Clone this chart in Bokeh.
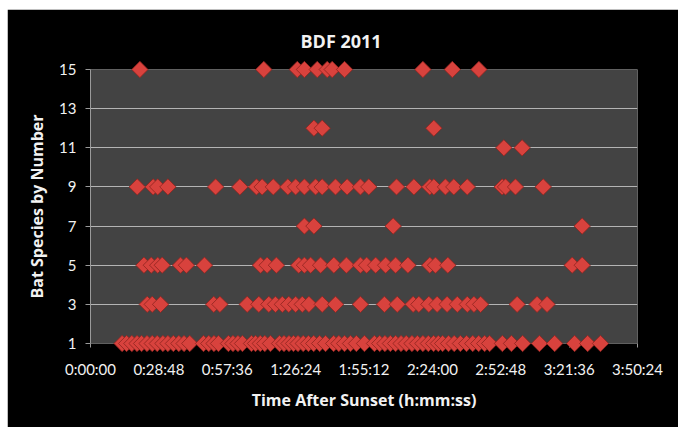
import numpy as np
from bokeh.plotting import figure
from bokeh.models import FixedTicker, Range1d, ColumnDataSource
from bokeh.embed import file_html
from bokeh.resources import INLINE

# ---- data (time after sunset in minutes, by bat species number) ----
species_15 = [20.8, 73.0, 87.1, 90.1, 95.5, 99.7, 101.8, 107.0, 140.0, 152.4, 163.6]
species_12 = [94.1, 97.6, 144.6]
species_11 = [174.1, 181.8]
species_9 = [19.7, 26.4, 28.3, 32.6, 52.7, 62.9, 69.9, 72.3, 77.0, 83.1, 86.4, 90.1,
             94.8, 97.6, 103.2, 108.1, 113.7, 117.2, 128.9, 136.2, 142.9, 144.6, 149.5,
             153.0, 158.7, 173.4, 174.8, 179.0, 190.7]
species_7 = [90.1, 94.1, 127.5, 207.1]
species_5 = [22.5, 25.6, 28.3, 30.2, 37.9, 40.4, 48.0, 71.6, 74.4, 78.3, 87.7, 90.1,
             92.7, 96.9, 102.5, 107.8, 113.7, 116.3, 120.1, 124.3, 128.5, 133.7, 142.9,
             145.3, 150.5, 202.9, 207.1]
species_3 = [23.9, 26.0, 29.5, 51.9, 54.5, 66.0, 70.9, 75.1, 77.9, 80.8, 83.5, 86.4,
             89.2, 92.0, 97.6, 103.2, 113.7, 123.8, 129.2, 135.9, 138.3, 142.5, 146.0,
             150.2, 154.5, 158.7, 161.5, 164.3, 179.7, 188.1, 192.3]
species_1 = [13.3, 15.2, 17.4, 19.6, 21.5, 23.8, 26.0, 28.1, 30.5, 32.6, 34.9, 37.2,
             39.4, 41.8, 47.6, 49.8, 52.0, 53.9, 58.1, 60.0, 62.1, 64.0, 67.8, 69.5,
             71.5, 73.4, 75.8, 79.6, 81.5, 83.6, 85.5, 87.4, 89.6, 91.8, 94.0, 96.5,
             99.0, 102.4, 104.6, 107.0, 109.5, 112.0, 115.4, 119.6, 121.8, 124.0, 126.3,
             128.5, 130.8, 133.0, 135.4, 137.7, 140.0, 142.3, 144.5, 146.5, 148.3, 150.8,
             153.2, 155.8, 158.4, 161.0, 163.5, 166.0, 168.1, 173.5, 177.3, 182.0, 189.1,
             195.5, 203.9, 209.4, 214.8]

rows = {15: species_15, 12: species_12, 11: species_11, 9: species_9,
        7: species_7, 5: species_5, 3: species_3, 1: species_1}

x_ticks_sec = [0, 1728, 3456, 5184, 6912, 8640, 10368, 12096, 13824]
x_tick_labels = ["0:00:00", "0:28:48", "0:57:36", "1:26:24", "1:55:12",
                 "2:24:00", "2:52:48", "3:21:36", "3:50:24"]
y_ticks = [1, 3, 5, 7, 9, 11, 13, 15]
y_grid = [3, 5, 7, 9, 11, 13]

title_text = "BDF 2011"
x_title = "Time After Sunset (h:mm:ss)"
y_title = "Bat Species by Number"

xs, ys = [], []
for sp, times in rows.items():
    for t in times:
        xs.append(t * 60.0)
        ys.append(sp)
src = ColumnDataSource(dict(x=xs, y=ys))

FONT = "Lato"
TFONT = "Open Sans"
TXT = "#f2f2f2"

p = figure(width=671, height=418, output_backend="svg", toolbar_location=None,
           x_range=Range1d(0, 13824), y_range=Range1d(1, 15),
           min_border_left=83, min_border_right=41, min_border_top=59, min_border_bottom=84,
           margin=(9, 0, 0, 7))
p.background_fill_color = "#434343"
p.border_fill_color = "black"
p.outline_line_color = None

# chart title (left-aligned with offset so it sits where the reference has it)
p.title.text = title_text
p.title.align = "left"
p.title.offset = 210
p.title.standoff = 34
p.title.text_color = TXT
p.title.text_font = TFONT
p.title.text_font_style = "bold"
p.title.text_font_size = "18px"

# x axis
p.xaxis.ticker = FixedTicker(ticks=x_ticks_sec)
p.xaxis.major_label_overrides = {t: l for t, l in zip(x_ticks_sec, x_tick_labels)}
p.xaxis.axis_line_color = None
p.xaxis.major_tick_line_color = "#9a9a9a"
p.xaxis.major_tick_in = 0
p.xaxis.major_tick_out = 4
p.xaxis.minor_tick_line_color = None
p.xaxis.major_label_text_color = TXT
p.xaxis.major_label_text_font = FONT
p.xaxis.major_label_text_font_size = "15px"
p.xaxis.major_label_standoff = 12
p.xaxis.axis_label = x_title
p.xaxis.axis_label_text_color = TXT
p.xaxis.axis_label_text_font = TFONT
p.xaxis.axis_label_text_font_style = "bold"
p.xaxis.axis_label_text_font_size = "16px"
p.xaxis.axis_label_standoff = 8

# y axis
p.yaxis.ticker = FixedTicker(ticks=y_ticks)
p.yaxis.axis_line_color = "#9a9a9a"
p.yaxis.major_tick_line_color = "#9a9a9a"
p.yaxis.major_tick_in = 0
p.yaxis.major_tick_out = 5
p.yaxis.minor_tick_line_color = None
p.yaxis.major_label_text_color = TXT
p.yaxis.major_label_text_font = FONT
p.yaxis.major_label_text_font_size = "15px"
p.yaxis.major_label_standoff = 9
p.yaxis.axis_label = y_title
p.yaxis.axis_label_text_color = TXT
p.yaxis.axis_label_text_font = TFONT
p.yaxis.axis_label_text_font_style = "bold"
p.yaxis.axis_label_text_font_size = "16px"
p.yaxis.axis_label_standoff = 8

p.xgrid.grid_line_color = None
p.ygrid.ticker = FixedTicker(ticks=y_grid)
p.ygrid.grid_line_color = "#b4b4b4"
p.ygrid.grid_line_width = 1

# markers (diamonds = rotated squares)
p.scatter("x", "y", source=src, marker="square", angle=np.pi / 4, size=11.5,
          fill_color="#d8423d", line_color="#8e2420", line_width=0.8, level="overlay")

open("out.html", "w").write(file_html(p, INLINE))
